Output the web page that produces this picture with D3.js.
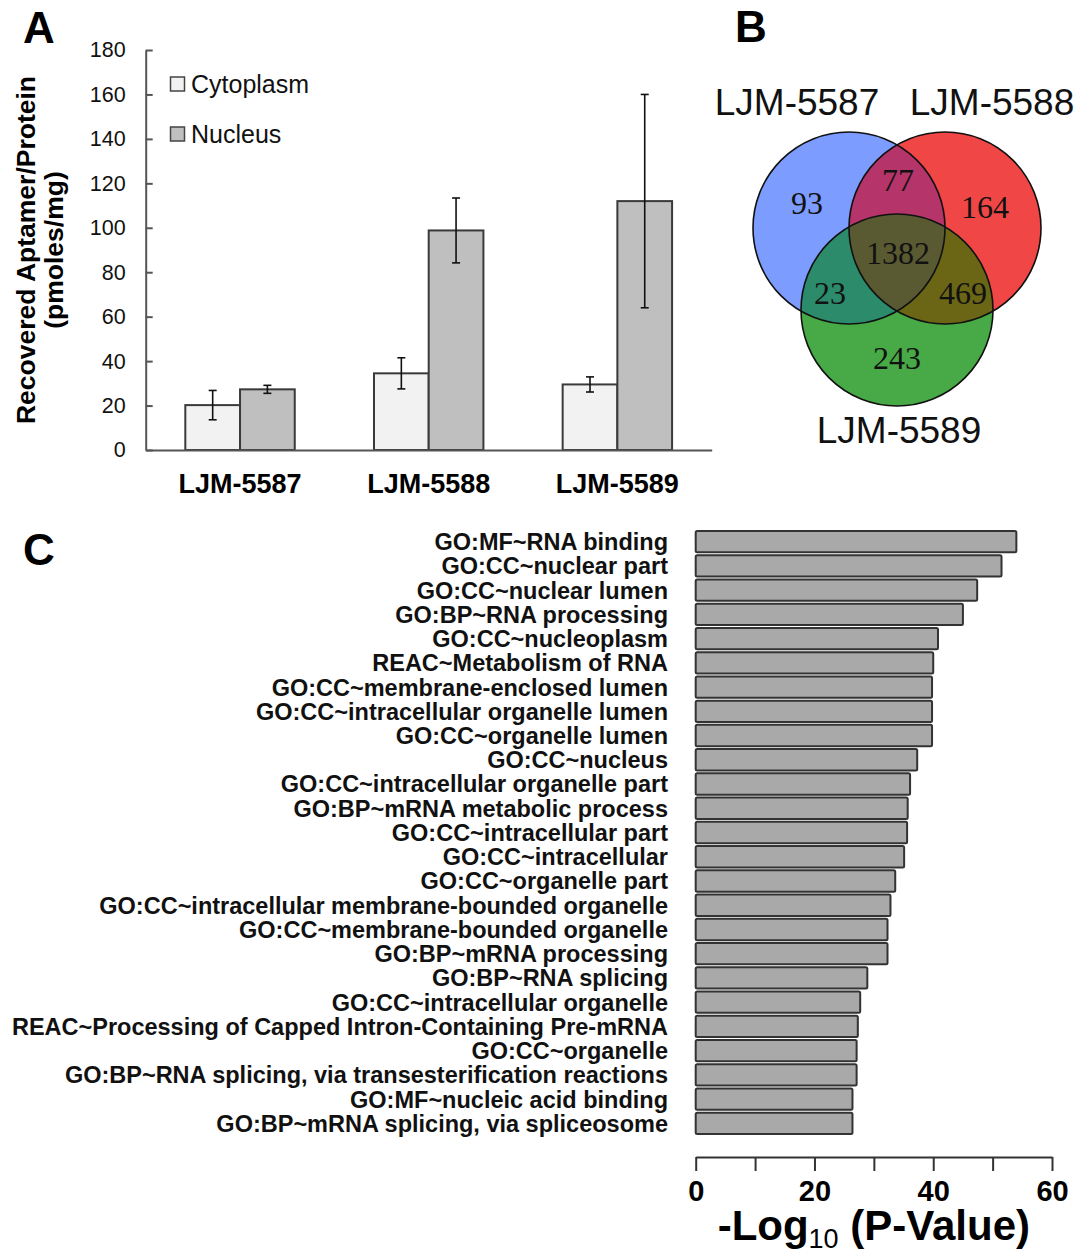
<!DOCTYPE html>
<html><head><meta charset="utf-8">
<script src="https://cdn.jsdelivr.net/npm/d3@7"></script>
<style>
body{margin:0;background:#fff;}
text{font-family:"Liberation Sans",Arial,sans-serif;}
</style></head>
<body>
<svg id="chart" width="1079" height="1260"></svg>
<script>
// ---------- Panel A data ----------
const groups = ["LJM-5587","LJM-5588","LJM-5589"];
const seriesNames = ["Cytoplasm","Nucleus"];
const cytoplasm = [20.2, 34.5, 29.5];
const cytoplasmErr = [6.6, 7.0, 3.4];
const nucleus = [27.3, 98.8, 112];
const nucleusErr = [1.8, 14.6, 48];
const yTicksA = [0,20,40,60,80,100,120,140,160,180];

// ---------- Panel B data ----------
const vennSets = ["LJM-5587","LJM-5588","LJM-5589"];
const vennRegions = ["A","AB","B","ABC","AC","BC","C"];
const vennCounts = [93, 77, 164, 1382, 23, 469, 243];

// ---------- Panel C data ----------
const terms = [
 "GO:MF~RNA binding","GO:CC~nuclear part","GO:CC~nuclear lumen","GO:BP~RNA processing",
 "GO:CC~nucleoplasm","REAC~Metabolism of RNA","GO:CC~membrane-enclosed lumen",
 "GO:CC~intracellular organelle lumen","GO:CC~organelle lumen","GO:CC~nucleus",
 "GO:CC~intracellular organelle part","GO:BP~mRNA metabolic process","GO:CC~intracellular part",
 "GO:CC~intracellular","GO:CC~organelle part","GO:CC~intracellular membrane-bounded organelle",
 "GO:CC~membrane-bounded organelle","GO:BP~mRNA processing","GO:BP~RNA splicing",
 "GO:CC~intracellular organelle","REAC~Processing of Capped Intron-Containing Pre-mRNA",
 "GO:CC~organelle","GO:BP~RNA splicing, via transesterification reactions",
 "GO:MF~nucleic acid binding","GO:BP~mRNA splicing, via spliceosome"];
const negLogP = [54.0,51.5,47.4,45.0,40.8,40.0,39.8,39.8,39.8,37.3,36.1,35.7,35.6,35.1,33.6,32.8,32.3,32.3,28.9,27.7,27.3,27.1,27.1,26.4,26.4];
const xTicksC = [0,10,20,30,40,50,60];

const svg = d3.select("#chart");

// Panel letters
[["A",23,43],["B",735,42],["C",23,565]].forEach(([t,x,y])=>{
  svg.append("text").attr("x",x).attr("y",y).attr("font-size",44).attr("font-weight","bold").text(t);
});

// ================= Panel A =================
const gA = svg.append("g");
const xA = d3.scaleBand().domain(groups).range([145.7,711.7]).paddingInner(0.42).paddingOuter(0.21);
const xSub = d3.scaleBand().domain(seriesNames).range([0,xA.bandwidth()]);
const yA = d3.scaleLinear().domain([0,180]).range([450,50]);
const fills = {Cytoplasm:"#f2f2f2", Nucleus:"#bfbfbf"};
const dataA = [];
groups.forEach((g,i)=>{
  dataA.push({g, s:"Cytoplasm", v:cytoplasm[i], e:cytoplasmErr[i]});
  dataA.push({g, s:"Nucleus", v:nucleus[i], e:nucleusErr[i]});
});
gA.selectAll("rect.bar").data(dataA).join("rect")
  .attr("x",d=>xA(d.g)+xSub(d.s)).attr("width",xSub.bandwidth())
  .attr("y",d=>yA(d.v)).attr("height",d=>yA(0)-yA(d.v))
  .attr("fill",d=>fills[d.s]).attr("stroke","#3a3a3a").attr("stroke-width",2);
// error bars
const eb = gA.selectAll("g.eb").data(dataA).join("g");
eb.append("line")
  .attr("x1",d=>xA(d.g)+xSub(d.s)+xSub.bandwidth()/2).attr("x2",d=>xA(d.g)+xSub(d.s)+xSub.bandwidth()/2)
  .attr("y1",d=>yA(d.v+d.e)).attr("y2",d=>yA(d.v-d.e)).attr("stroke","#111").attr("stroke-width",1.6);
[1,-1].forEach(sg=>{
  eb.append("line")
    .attr("x1",d=>xA(d.g)+xSub(d.s)+xSub.bandwidth()/2-4).attr("x2",d=>xA(d.g)+xSub(d.s)+xSub.bandwidth()/2+4)
    .attr("y1",d=>yA(d.v+sg*d.e)).attr("y2",d=>yA(d.v+sg*d.e)).attr("stroke","#111").attr("stroke-width",1.6);
});
// y axis
const yAxA = gA.append("g").attr("transform","translate(145.7,0)")
  .call(d3.axisLeft(yA).tickValues(yTicksA).tickSize(-7).tickSizeOuter(0).tickPadding(20));
yAxA.select(".domain").attr("stroke","#555").attr("stroke-width",2);
yAxA.selectAll(".tick line").attr("stroke","#555").attr("stroke-width",2);
yAxA.selectAll(".tick text").attr("font-size",21.5).attr("fill","#111")
  .attr("font-family","'Liberation Sans',Arial,sans-serif");
// x axis
const xAxA = gA.append("g").attr("transform","translate(0,450)")
  .call(d3.axisBottom(xA).tickSize(0).tickSizeOuter(0).tickPadding(24));
xAxA.select(".domain").attr("stroke","#555").attr("stroke-width",2);
xAxA.selectAll(".tick text").attr("font-size",27).attr("font-weight","bold").attr("fill","#000")
  .attr("font-family","'Liberation Sans',Arial,sans-serif");
// y title
const yt = gA.append("text").attr("transform","translate(35,250) rotate(-90)")
  .attr("text-anchor","middle").attr("font-size",26.5).attr("font-weight","bold");
yt.append("tspan").attr("x",0).attr("y",0).text("Recovered Aptamer/Protein");
yt.append("tspan").attr("x",0).attr("y",28).text("(pmoles/mg)");
// legend
seriesNames.forEach((s,i)=>{
  const ly = 84 + i*50;
  gA.append("rect").attr("x",170.5).attr("y",ly-7).attr("width",14).attr("height",14)
    .attr("fill",fills[s]).attr("stroke","#444").attr("stroke-width",1.5);
  gA.append("text").attr("x",191).attr("y",ly+9).attr("font-size",25).attr("fill","#111").text(s);
});

// ================= Panel B (Venn) =================
const gB = svg.append("g");
const vc = {x:897, y:255}, vr = 96;
const circles = [
  {id:"cA", cx:vc.x-48, cy:vc.y-27, fill:"#7d9cff"},
  {id:"cB", cx:vc.x+48, cy:vc.y-27, fill:"#f04646"},
  {id:"cC", cx:vc.x,    cy:vc.y+55, fill:"#47aa47"}
];
const defs = svg.append("defs");
circles.forEach(c=>{
  defs.append("clipPath").attr("id","clip_"+c.id)
    .append("circle").attr("cx",c.cx).attr("cy",c.cy).attr("r",vr);
});
function circ(g,c,fill){ g.append("circle").attr("cx",c.cx).attr("cy",c.cy).attr("r",vr).attr("fill",fill); }
circles.forEach(c=>circ(gB,c,c.fill));
circ(gB.append("g").attr("clip-path","url(#clip_cA)"), circles[1], "#b5346a");
circ(gB.append("g").attr("clip-path","url(#clip_cA)"), circles[2], "#2b8b6b");
circ(gB.append("g").attr("clip-path","url(#clip_cB)"), circles[2], "#6a6616");
circ(gB.append("g").attr("clip-path","url(#clip_cA)").append("g").attr("clip-path","url(#clip_cB)"), circles[2], "#5a5a32");
circles.forEach(c=>{
  gB.append("circle").attr("cx",c.cx).attr("cy",c.cy).attr("r",vr)
    .attr("fill","none").attr("stroke","#111").attr("stroke-width",1.6);
});
const regionOffsets = {A:[-90,-52], AB:[1,-75], B:[88,-48], ABC:[1,-2], AC:[-67,38], BC:[66,38], C:[0,103]};
gB.selectAll("text.cnt").data(vennRegions).join("text")
  .attr("x",(d)=>vc.x+regionOffsets[d][0]).attr("y",d=>vc.y+regionOffsets[d][1])
  .attr("text-anchor","middle").attr("dominant-baseline","central")
  .style("font-family","'Liberation Serif','Times New Roman',serif").attr("font-size",32).attr("fill","#111")
  .text((d,i)=>vennCounts[i]);
const setLabelPos = [[-100,-140],[95,-140],[2,188]];
vennSets.forEach((s,i)=>{
  gB.append("text").attr("x",vc.x+setLabelPos[i][0]).attr("y",vc.y+setLabelPos[i][1])
    .attr("text-anchor","middle").attr("font-size",37).attr("fill","#111").text(s);
});

// ================= Panel C =================
const gC = svg.append("g");
const xC = d3.scaleLinear().domain([0,60]).range([695.7,1052]);
const yC = d3.scaleBand().domain(terms).range([529.5,1135.5]).paddingInner(0.12).paddingOuter(0.06);
gC.selectAll("rect").data(terms).join("rect")
  .attr("x",xC(0)).attr("y",d=>yC(d)).attr("height",yC.bandwidth())
  .attr("width",(d,i)=>xC(negLogP[i])-xC(0))
  .attr("rx",1.5).attr("fill","#a9a9a9").attr("stroke","#333").attr("stroke-width",2);
gC.selectAll("text.term").data(terms).join("text")
  .attr("x",668).attr("y",d=>yC(d)+yC.bandwidth()/2).attr("dy","0.36em")
  .attr("text-anchor","end").attr("font-size",23.5).attr("font-weight","bold").attr("fill","#111")
  .text(d=>d);
const xAxC = gC.append("g").attr("transform","translate(0,1157)")
  .call(d3.axisBottom(xC).tickValues(xTicksC).tickSize(14).tickSizeOuter(0).tickPadding(9)
    .tickFormat(d=>d%20===0?d:""));
xAxC.select(".domain").attr("stroke","#333").attr("stroke-width",2);
xAxC.selectAll(".tick line").attr("stroke","#333").attr("stroke-width",2);
xAxC.selectAll(".tick text").attr("font-size",29).attr("font-weight","bold").attr("fill","#000")
  .attr("font-family","'Liberation Sans',Arial,sans-serif");
const xt = gC.append("text").attr("x",(xC(0)+xC(60))/2).attr("y",1240).attr("text-anchor","middle")
  .attr("font-size",42).attr("font-weight","bold").attr("fill","#000");
xt.append("tspan").text("-Log");
xt.append("tspan").attr("font-size",27).attr("font-weight","normal").attr("dy",8).text("10");
xt.append("tspan").attr("dy",-8).text(" (P-Value)");
</script>
</body></html>
